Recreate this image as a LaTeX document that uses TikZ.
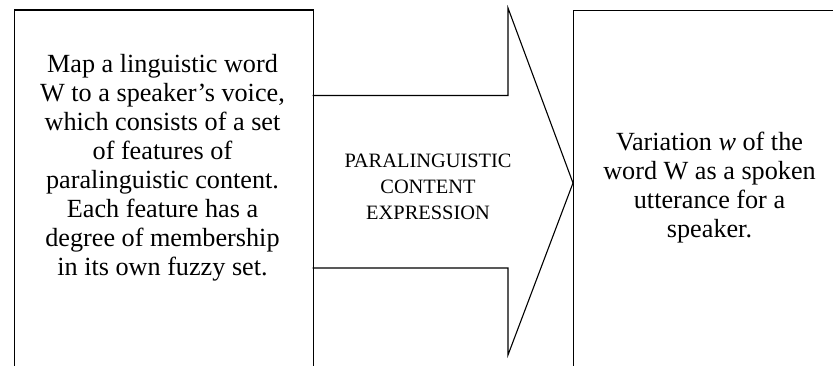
\documentclass[tikz,border=0pt]{standalone}
\usepackage{fontspec}
\setmainfont{Liberation Serif}
\begin{document}
\begin{tikzpicture}[x=1pt,y=-1pt,
  boxline/.style={draw=black,line width=1.1pt},
  bigtext/.style={inner sep=0pt,align=center,font=\fontsize{26.2}{28.9}\selectfont},
  smalltext/.style={inner sep=0pt,align=center,font=\fontsize{20.4}{26}\selectfont}]
\useasboundingbox (0,0) rectangle (833,366);
\clip (0,0) rectangle (833,366);
% left box
\node[boxline,anchor=north west,minimum width=299pt,minimum height=400pt,inner sep=0pt] (L) at (13.5,9.5) {};
% right box
\node[boxline,anchor=north west,minimum width=273pt,minimum height=400pt,inner sep=0pt] (R) at (573,10) {};
% block arrow
\coordinate (s1) at (312.5,95.5);
\coordinate (n1) at (508,95.5);
\coordinate (h1) at (508,8);
\coordinate (tip) at (573,183);
\coordinate (h2) at (508,355);
\coordinate (n2) at (508,268);
\coordinate (s2) at (312.5,268);
\draw[line width=1.1pt,line join=miter] (s1) -- (n1) -- (h1) -- (tip) -- (h2) -- (n2) -- (s2);
% texts
\node[bigtext] (lt) at (162.5,167.7) {Map a linguistic word\\W to a speaker’s voice,\\which consists of a set\\of features of\\paralinguistic content.\\Each feature has a\\degree of membership\\in its own fuzzy set.};
\node[smalltext] (mt) at (428,187.3) {PARALINGUISTIC\\CONTENT\\EXPRESSION};
\node[bigtext] (rt) at (709.5,187.4) {Variation \textit{w} of the\\word W as a spoken\\utterance for a\\speaker.};
\end{tikzpicture}
\end{document}
